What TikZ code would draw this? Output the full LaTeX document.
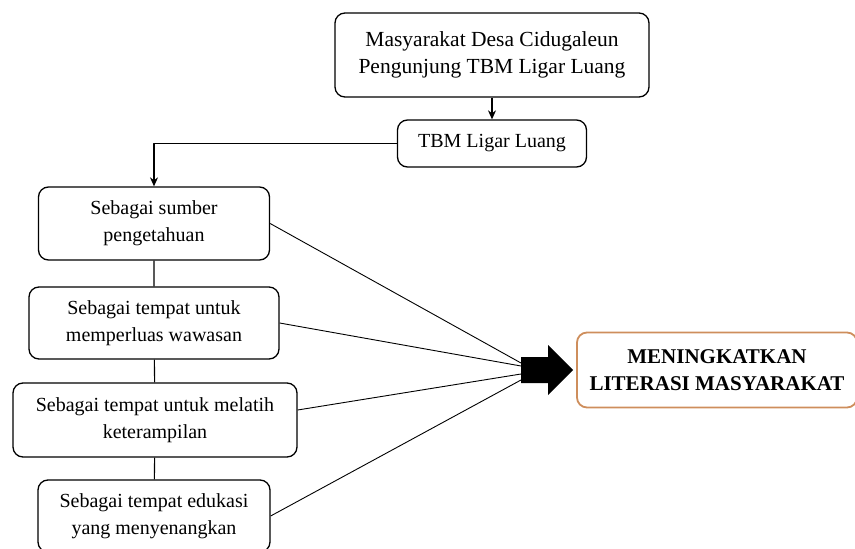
\documentclass[tikz,border=0pt]{standalone}
\usepackage{fontspec}
\setmainfont{Liberation Serif}
\usetikzlibrary{arrows.meta}
\definecolor{oranye}{RGB}{206,142,92}
\begin{document}
\begin{tikzpicture}[x=1pt,y=-1pt,line join=round,>={Stealth[length=9pt,width=8pt]}]
	\tikzset{kotak/.style={draw,rounded corners=10pt,line width=1.3pt,align=center,inner sep=0pt,font=\fontsize{20}{27}\selectfont},
		garis/.style={line width=1.1pt}}
	\useasboundingbox (0,0) rectangle (855,549);
	\node[kotak,minimum width=314pt,minimum height=84pt,font=\fontsize{21.5}{27}\selectfont] (masyarakat) at (492,55) {Masyarakat Desa Cidugaleun\\Pengunjung TBM Ligar Luang};
	\node[kotak,minimum width=189pt,minimum height=47pt] (tbm) at (492,143.5) {TBM Ligar Luang};
	\node[kotak,minimum width=231pt,minimum height=73pt] (sumber) at (154,223.5) {Sebagai sumber\\pengetahuan};
	\node[kotak,minimum width=250pt,minimum height=72pt] (wawasan) at (154,323) {Sebagai tempat untuk\\memperluas wawasan};
	\node[kotak,minimum width=284pt,minimum height=74pt] (terampil) at (155,420) {Sebagai tempat untuk melatih\\keterampilan};
	\node[kotak,minimum width=232pt,minimum height=72pt] (edukasi) at (154,516) {Sebagai tempat edukasi\\yang menyenangkan};
	\node[kotak,draw=oranye,line width=1.8pt,minimum width=280pt,minimum height=75pt,font=\fontsize{21}{27}\selectfont\bfseries] (literasi) at (717,370) {MENINGKATKAN\\LITERASI MASYARAKAT};
	\draw[garis,->] (masyarakat) -- (tbm);
	\draw[garis,->] (tbm.west) -| (sumber.north);
	\draw[garis] (sumber) -- (wawasan) (wawasan) -- (terampil) (terampil) -- (edukasi);
	\coordinate (t1) at (521,363);
	\coordinate (t2) at (521,366);
	\coordinate (t3) at (521,374);
	\coordinate (t4) at (521,380);
	\draw[line width=0.9pt] (sumber.east) -- (t1) (wawasan.east) -- (t2) ([yshift=10pt]terampil.east) -- (t3) (edukasi.east) -- (t4);
	\fill (521,357) -- (548,357) -- (548,345) -- (573,370) -- (548,395) -- (548,383) -- (521,383) -- cycle;
\end{tikzpicture}
\end{document}
